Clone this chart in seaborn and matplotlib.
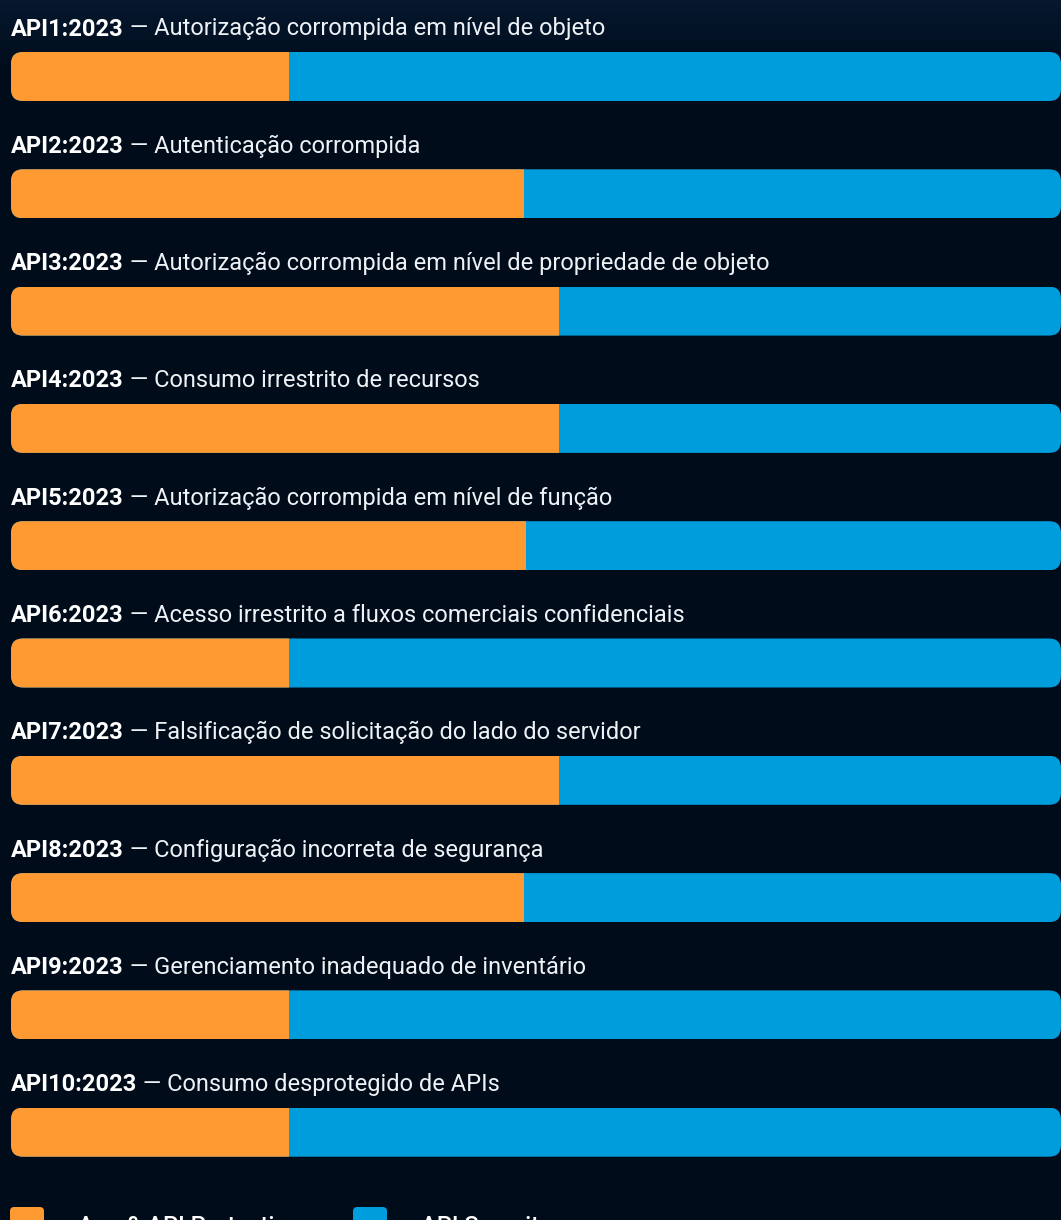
import numpy as np
import pandas as pd
import matplotlib
matplotlib.use("Agg")
import matplotlib.pyplot as plt
import seaborn as sns
from matplotlib.patches import FancyBboxPatch

# data
codes = ["API1:2023", "API2:2023", "API3:2023", "API4:2023", "API5:2023",
         "API6:2023", "API7:2023", "API8:2023", "API9:2023", "API10:2023"]
titles = [
    "Autorização corrompida em nível de objeto",
    "Autenticação corrompida",
    "Autorização corrompida em nível de propriedade de objeto",
    "Consumo irrestrito de recursos",
    "Autorização corrompida em nível de função",
    "Acesso irrestrito a fluxos comerciais confidenciais",
    "Falsificação de solicitação do lado do servidor",
    "Configuração incorreta de segurança",
    "Gerenciamento inadequado de inventário",
    "Consumo desprotegido de APIs",
]
app_protect = [26.5, 48.9, 52.2, 52.2, 49.0, 26.5, 52.2, 48.9, 26.5, 26.5]
total = [100] * 10
legend_labels = ["App & API Protection", "API Security"]

BG = "#000c1a"
ORANGE = "#ff9a33"
BLUE = "#009ddc"

df = pd.DataFrame({"code": codes, "orange": app_protect, "total": total})

sns.set_theme(style="white")
plt.rcParams["font.family"] = ["Roboto", "DejaVu Sans"]

W, H = 1061, 1220
fig = plt.figure(figsize=(W / 100, H / 100), dpi=100, facecolor=BG)

# faint lighter glow at the top
bg_ax = fig.add_axes([0, 0, 1, 1], zorder=0)
grad = np.linspace(0, 1, 200).reshape(-1, 1)
top = np.array(matplotlib.colors.to_rgb("#06172e"))
base = np.array(matplotlib.colors.to_rgb(BG))
t = np.clip(grad / 0.06, 0, 1)
img = top * (1 - t[..., None]) + base * t[..., None]
bg_ax.imshow(img, aspect="auto", extent=[0, 1, 0, 1], origin="upper")
bg_ax.axis("off")

ax = fig.add_axes([11 / W, 0, 1050 / W, 1], zorder=1)
ax.set_facecolor("none")

bar_h = 49 / 117.3
sns.barplot(data=df, y="code", x="total", color=BLUE, orient="h",
            width=bar_h, ax=ax, saturation=1)
sns.barplot(data=df, y="code", x="orange", color=ORANGE, orient="h",
            width=bar_h, ax=ax, saturation=1)

ax.set_xlim(0, 100)
ax.set_ylim((H - 76.5) / 117.3, -76.5 / 117.3)
ax.axis("off")

# rounded clip for each bar row
px_x = 100 / 1050
px_y = 1 / 117.3
bars = list(ax.patches)
for i in range(len(codes)):
    clip = FancyBboxPatch((0, i - bar_h / 2), 100, bar_h,
                          boxstyle="round,pad=0,rounding_size=%f" % (12 * px_x),
                          mutation_aspect=px_y / px_x,
                          transform=ax.transData, facecolor="none",
                          edgecolor="none")
    ax.add_patch(clip)
    for p in bars:
        cy = p.get_y() + p.get_height() / 2
        if abs(cy - i) < 0.01:
            p.set_clip_path(clip)
            p.set_linewidth(0)

# row labels: bold code + lighter description
for i, (c, ttl) in enumerate(zip(codes, titles)):
    y = i - 36 / 117.3
    t1 = ax.text(0, y, c, color="white", fontsize=17, fontweight="bold",
                 va="bottom", ha="left")
    ax.annotate(" — " + ttl, xy=(1, 0), xycoords=t1,
                xytext=(0, 0), textcoords="offset points",
                color="#eef1f5", fontsize=17, fontweight="normal",
                va="bottom", ha="left")

# legend at the bottom (cut by the edge as in the reference)
leg_y = 1207
for x0, col, lab, tx in [(10, ORANGE, legend_labels[0], 78),
                         (353, BLUE, legend_labels[1], 421)]:
    sq = FancyBboxPatch((x0 / W, 1 - (leg_y + 34) / H), 34 / W, 34 / H,
                        boxstyle="round,pad=0,rounding_size=0.004",
                        mutation_aspect=W / H,
                        transform=fig.transFigure, facecolor=col,
                        edgecolor="none", zorder=3)
    fig.patches.append(sq)
    fig.text(tx / W, 1 - (leg_y + 8) / H, lab, color="white", fontsize=17,
             fontweight="medium", va="top", ha="left")

fig.savefig("out.png", dpi=100, facecolor=BG)
